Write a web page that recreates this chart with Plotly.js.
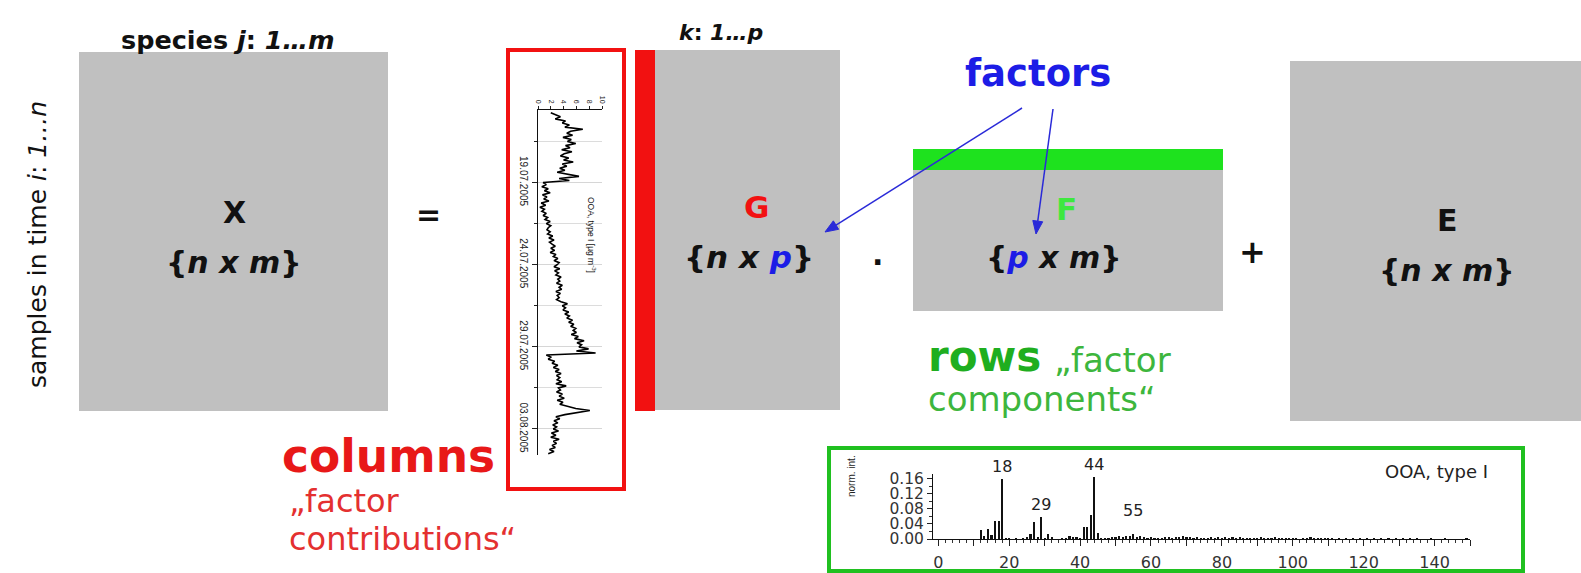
<!DOCTYPE html>
<html>
<head>
<meta charset="utf-8">
<script src="https://cdn.plot.ly/plotly-3.0.1.min.js"></script>
<style>
  html, body { margin: 0; padding: 0; background: #fff; }
  #chart { width: 1581px; height: 573px; }
</style>
</head>
<body>
<div id="chart"></div>
<script>
// ---------------- DATA ----------------
// Factor time series (OOA, type I, µg m-3), 3-hourly samples starting 14.07.2005 18:00
const tsStart = '2005-07-14 18:00';
const tsStepHours = 3;
const tsValues = [
  2.0, 2.9,
  3.5, 2.7, 4.3, 3.8, 4.9, 4.2, 7.0, 5.1,
  4.5, 5.4, 3.9, 5.2, 4.6, 5.9, 4.3, 5.0,
  3.7, 5.3, 4.1, 3.5, 4.8, 4.0, 5.5, 3.8,
  4.5, 3.4, 4.2, 3.0, 4.7, 6.4, 3.3, 4.9,
  0.8, 1.3, 0.6, 1.6, 1.0, 1.9, 0.7, 1.4,
  0.9, 1.7, 0.5, 1.2, 0.3, 1.0, 0.6, 1.3,
  0.8, 1.5, 1.1, 1.9, 1.3, 2.0, 1.6, 1.4,
  1.9, 1.5, 2.3, 1.7, 2.5, 1.8, 2.2, 2.7,
  2.0, 2.6, 1.9, 2.8, 2.4, 3.1, 2.5, 3.3,
  3.0, 2.5, 3.4, 2.6, 3.2, 2.8, 3.6, 3.1,
  3.4, 2.9, 3.8, 3.3, 3.7, 2.8, 3.5, 3.0,
  3.3, 2.9, 3.6, 4.6, 3.8, 4.3, 3.9, 4.8,
  4.2, 4.9, 4.5, 5.4, 4.8, 5.6, 5.1, 5.9,
  5.5, 6.0, 5.2, 6.3, 5.7, 7.2, 6.1, 6.8,
  6.4, 7.9, 6.0, 9.0, 1.3, 2.0, 1.6, 2.6,
  2.2, 3.1, 2.4, 3.3, 2.7, 3.6, 2.9, 3.4,
  3.0, 3.7, 2.8, 4.4, 3.2, 3.5, 2.9, 3.8,
  3.3, 4.1, 3.0, 3.9, 3.4, 4.6, 5.9, 8.1,
  6.0, 4.2, 2.8, 3.4, 2.5, 3.1, 2.3, 2.9,
  2.4, 3.2, 2.1, 2.8, 2.0, 3.3, 2.4, 2.9,
  2.2, 2.7, 1.8, 2.5, 1.6
];
const tsValueTicks = [0, 2, 4, 6, 8, 10];
const tsTitle = 'OOA, type I [µg m<sup>-3</sup>]';

// Factor profile (mass spectrum), m/z 12 ... 150
const specFirstMz = 12;
const specValues = [
  .024,.008,.026,.010,.048,.048,.160,.003,.002,.001,
  .002,.001,.003,.006,.014,.045,.004,.058,.003,.012,
  .004,.001,.001,.002,.003,.007,.006,.004,.002,.032,
  .032,.064,.163,.016,.003,.002,.002,.004,.006,.007,
  .005,.008,.007,.014,.006,.007,.004,.003,.004,.002,
  .003,.002,.004,.005,.003,.006,.004,.007,.005,.006,
  .003,.004,.002,.003,.002,.005,.003,.004,.002,.006,
  .003,.004,.003,.005,.002,.003,.002,.003,.002,.005,
  .002,.003,.002,.004,.002,.003,.002,.003,.002,.002,
  .001,.003,.002,.004,.002,.003,.002,.003,.002,.002,
  .001,.002,.001,.003,.001,.002,.001,.003,.001,.002,
  .001,.002,.001,.002,.001,.002,.001,.002,.001,.002,
  .001,.002,.001,.002,.001,.001,.001,.002,.001,.001,
  .001,.002,.001,.001,.001,.001,.001,.002,.001
];
const specPeakLabels = [18, 29, 44, 55];
const specYTickVals = [0, 0.04, 0.08, 0.12, 0.16];
const specYTickText = ['0.00','0.04','0.08','0.12','0.16'];
const specName = 'OOA, type I';
const specYTitle = 'norm. int.';

// ---------------- STYLE ----------------
const W = 1581, H = 573;
const GRAY = '#c0c0c0', RED = '#f21111', REDTXT = '#e81818', REDLIGHT = '#e43030';
const GREENBAR = '#1ee21e', GREENTXT = '#1fae1f', GREENLIGHT = '#3db63d', GREENF = '#3ee83e';
const BLUE = '#1c1ce6', ARROW = '#2a2ad8', BORDERGREEN = '#20c020';
const FONT = 'DejaVu Sans, sans-serif';
const AFONT = 'Liberation Sans, Arial, sans-serif';
const px = v => v / W;          // pixel -> paper x
const py = v => (H - v) / H;    // pixel -> paper y
const DAY = 86400000;

const traces = [
  {
    type: 'scatter', mode: 'lines',
    x: tsValues, y0: tsStart, dy: tsStepHours * 3600000,
    xaxis: 'x2', yaxis: 'y2',
    line: { color: '#000', width: 1.6 },
    hoverinfo: 'skip'
  },
  {
    type: 'bar',
    x0: specFirstMz, dx: 1, y: specValues,
    xaxis: 'x3', yaxis: 'y3',
    width: 0.6,
    marker: { color: '#111', line: { width: 0 } },
    hoverinfo: 'skip'
  }
];

function rect(x0, y0, x1, y1, fill, line, lw) {
  return { type: 'rect', xref: 'x', yref: 'y', x0, y0, x1, y1, layer: 'below',
    fillcolor: fill || 'rgba(0,0,0,0)', line: { color: line || 'rgba(0,0,0,0)', width: lw || 0 } };
}
// arrow = line + filled triangular head (pixel space of the background axes)
function arrow(tx, ty, hx, hy) {
  const L = Math.hypot(hx - tx, hy - ty), ux = (hx - tx) / L, uy = (hy - ty) / L;
  const hl = 13, hw = 5;
  const bx = hx - hl * ux, by = hy - hl * uy;
  return [
    { type: 'line', xref: 'x', yref: 'y', x0: tx, y0: ty, x1: bx, y1: by,
      line: { color: ARROW, width: 1.5 } },
    { type: 'path', xref: 'x', yref: 'y',
      path: `M ${hx} ${hy} L ${bx - hw * uy} ${by + hw * ux} L ${bx + hw * uy} ${by - hw * ux} Z`,
      fillcolor: ARROW, line: { color: ARROW, width: 1 } }
  ];
}
const shapes = [
  rect(79, 52, 388, 411, GRAY),
  rect(508, 50, 624, 489, null, RED, 4),
  rect(635, 50, 655, 411, RED),
  rect(655, 50, 840, 410, GRAY),
  rect(913, 149, 1223, 170, GREENBAR),
  rect(913, 170, 1223, 311, GRAY),
  rect(1290, 61, 1581, 421, GRAY),
  rect(829, 448, 1523, 571, null, BORDERGREEN, 4),
  ...arrow(1022, 108, 825, 232),
  ...arrow(1053, 109, 1036, 234)
];

function txt(x, y, text, size, color, extra) {
  return Object.assign({ xref: 'x', yref: 'y', x, y, text, showarrow: false,
    font: { family: FONT, size, color: color || '#111' } }, extra || {});
}
const annotations = [
  txt(228, 40, '<b>species <i>j</i>: <i>1…m</i></b>', 25.5),
  txt(37, 245, 'samples in time <i>i</i>: <i>1…n</i>', 25, '#111', { textangle: -90 }),
  txt(234, 212, '<b>X</b>', 30),
  txt(234, 262, '<b>{<i>n x m</i>}</b>', 30),
  txt(428, 214, '<b>=</b>', 30),
  txt(721, 32, '<b><i>k</i>: <i>1…p</i></b>', 22),
  txt(756, 207, '<b>G</b>', 31, RED),
  txt(749, 257, '<b>{<i>n x </i><span style="color:' + BLUE + '"><i>p</i></span>}</b>', 31),
  txt(877, 262, '<b>·</b>', 30),
  txt(1038, 73, '<b>factors</b>', 37, BLUE),
  txt(1066, 209, '<b>F</b>', 31, GREENF),
  txt(1054, 257, '<b>{<span style="color:' + BLUE + '"><i>p</i></span><i> x m</i>}</b>', 30),
  txt(1252, 252, '<b>+</b>', 32),
  txt(1447, 220, '<b>E</b>', 30),
  txt(1447, 270, '<b>{<i>n x m</i>}</b>', 30),
  txt(926, 356, '<b>rows</b>', 42, GREENTXT, { xanchor: 'left' }),
  txt(1052, 360, '„factor', 34, GREENLIGHT, { xanchor: 'left' }),
  txt(926, 399, 'components“', 34, GREENLIGHT, { xanchor: 'left' }),
  txt(280, 456, '<b>columns</b>', 45.5, REDTXT, { xanchor: 'left' }),
  txt(287, 501, '„factor', 32, REDLIGHT, { xanchor: 'left' }),
  txt(287, 539, 'contributions“', 32, REDLIGHT, { xanchor: 'left' }),
  // time-series inset title
  txt(592, 235, tsTitle, 8.5, '#111', { textangle: 90, font: { family: AFONT, size: 8.5, color: '#111' } }),
  // spectrum inset texts
  txt(851, 476, specYTitle, 10, '#222', { textangle: -90, font: { family: AFONT, size: 10, color: '#222' } }),
  txt(1436, 471, specName, 18, '#222', { font: { family: FONT, size: 18, color: '#222' } })
];
specPeakLabels.forEach(mz => {
  annotations.push({ xref: 'x3', yref: 'y3', x: mz, y: specValues[mz - specFirstMz],
    text: String(mz), showarrow: false, yanchor: 'bottom', yshift: mz === 55 ? 12 : 1,
    font: { family: FONT, size: 16, color: '#222' } });
});

const specXRange = [-1.5, 150];
const layout = {
  width: W, height: H,
  margin: { l: 0, r: 0, t: 0, b: 0, pad: 0 },
  paper_bgcolor: '#fff', plot_bgcolor: 'rgba(0,0,0,0)',
  showlegend: false,
  xaxis: { domain: [0, 1], range: [0, W], visible: false, fixedrange: true },
  yaxis: { domain: [0, 1], range: [H, 0], visible: false, fixedrange: true },
  xaxis2: {
    domain: [px(538), px(602)], range: [0, 10], anchor: 'y2', side: 'top',
    tickvals: tsValueTicks, tickangle: 90, tickfont: { family: AFONT, size: 7, color: '#222' },
    ticks: 'outside', ticklen: 3, tickcolor: '#222',
    showline: true, linecolor: '#111', linewidth: 1, showgrid: false, zeroline: false, fixedrange: true
  },
  yaxis2: {
    domain: [py(455), py(110)], type: 'date', anchor: 'x2',
    range: ['2005-08-04 14:00', '2005-07-14 14:00'],
    tickmode: 'linear', tick0: '2005-07-19', dtick: 5 * DAY, tickformat: '%d.%m.%Y',
    tickangle: 90, tickfont: { family: AFONT, size: 10, color: '#222' },
    ticks: 'outside', ticklen: 5, tickcolor: '#222',
    showline: true, linecolor: '#111', linewidth: 1,
    showgrid: true, gridcolor: '#d6d6d6', gridwidth: 1, zeroline: false,
    minor: { tickmode: 'linear', tick0: '2005-07-19', dtick: 2.5 * DAY, ticks: 'outside', ticklen: 3,
      tickcolor: '#222', showgrid: true, gridcolor: '#dcdcdc' },
    fixedrange: true
  },
  xaxis3: {
    domain: [px(933), px(1470)], range: specXRange, anchor: 'y3',
    tickmode: 'linear', tick0: 0, dtick: 20,
    ticks: 'outside', ticklen: 6, tickcolor: '#222', tickwidth: 1,
    tickfont: { family: FONT, size: 16, color: '#333' }, ticklabelstandoff: 3,
    minor: { tickmode: 'linear', tick0: 0, dtick: 2, ticks: 'outside', ticklen: 3, tickcolor: '#333' },
    showline: true, linecolor: '#111', linewidth: 1, showgrid: false, zeroline: false, fixedrange: true
  },
  // extra unlabeled long ticks every 10 m/z
  xaxis4: {
    domain: [px(933), px(1470)], range: specXRange, anchor: 'y3', overlaying: 'x3',
    tickmode: 'linear', tick0: 0, dtick: 10, ticks: 'outside', ticklen: 6, tickcolor: '#222',
    showticklabels: false, showline: false, showgrid: false, zeroline: false, fixedrange: true
  },
  yaxis3: {
    domain: [py(539), py(474)], range: [0, 0.172], anchor: 'x3',
    tickmode: 'array', tickvals: specYTickVals, ticktext: specYTickText,
    ticks: 'outside', ticklen: 5, tickcolor: '#222',
    tickfont: { family: FONT, size: 15.5, color: '#333' },
    minor: { tickmode: 'linear', tick0: 0, dtick: 0.02, ticks: 'outside', ticklen: 3, tickcolor: '#333' },
    showline: true, linecolor: '#111', linewidth: 1, showgrid: false, zeroline: false, fixedrange: true
  },
  shapes, annotations,
  bargap: 0
};

// a tiny invisible trace keeps the extra tick axis alive
traces.push({ type: 'scatter', mode: 'markers', x: [], y: [], xaxis: 'x4', yaxis: 'y3', hoverinfo: 'skip' });

Plotly.newPlot('chart', traces, layout, { staticPlot: true, displayModeBar: false }).then(() => {
  // drop Plotly's off-screen text-measuring helper once drawing is done
  document.querySelectorAll('.js-plotly-tester').forEach(el => el.remove());
  // and any empty text nodes left in the figure
  document.querySelectorAll('#chart text').forEach(t => { if (!t.textContent.trim()) t.remove(); });
});
</script>
</body>
</html>
